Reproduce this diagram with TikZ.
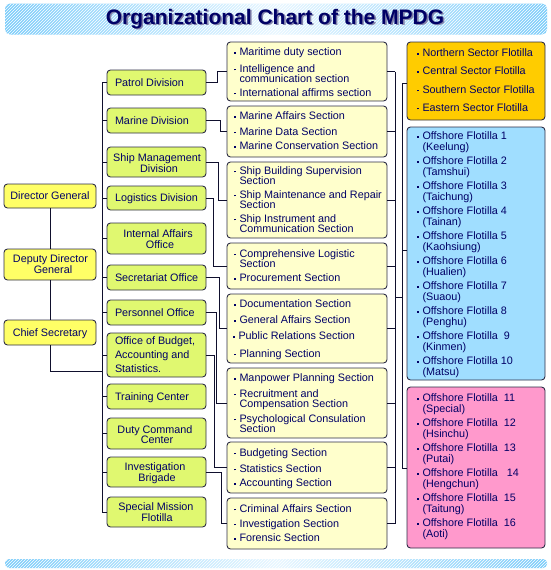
\documentclass[tikz,border=0pt]{standalone}
\usepackage{fontspec}
\setmainfont{Liberation Sans}
\usetikzlibrary{patterns}
\definecolor{navy}{RGB}{0,0,102}
\definecolor{linec}{RGB}{15,15,45}
\definecolor{boxborder}{RGB}{45,45,70}
\definecolor{topyellow}{RGB}{255,255,102}
\definecolor{divgreen}{RGB}{224,248,112}
\definecolor{secyellow}{RGB}{255,255,204}
\definecolor{orangef}{RGB}{255,204,0}
\definecolor{bluef}{RGB}{160,222,255}
\definecolor{pinkf}{RGB}{255,153,204}
\definecolor{barblue}{RGB}{125,205,250}
\definecolor{barlight}{RGB}{232,247,255}
\definecolor{titleshadow}{RGB}{130,130,170}
\newcommand{\bul}{\raisebox{0.3ex}{\rule{1.7pt}{1.7pt}}}
\newcommand{\mkbox}[6]{%
  \pgfmathsetmacro\bxw{#4-#2}\pgfmathsetmacro\bxh{#5-#3}%
  \node[box, fill=#6, anchor=north west, minimum width=\bxw pt, minimum height=\bxh pt] (#1) at (#2,#3) {};}
\newcommand{\itm}[4]{\node[lbl, anchor=base west] (#1) at (#2,#3+3.8) {\makebox[5.5pt][l]{\bul}#4};}
\newcommand{\cnt}[4]{\node[lbl, anchor=base west] (#1) at (#2+5.5,#3+3.8) {#4};}
\newcommand{\ctr}[4]{\node[lbl, anchor=base] (#1) at (#2,#3+3.8) {#4};}
\newcommand{\lft}[4]{\node[lbl, anchor=base west] (#1) at (#2,#3+3.8) {#4};}
\newcommand{\ttltext}{Organizational Chart of the MPDG}
\begin{document}
\begin{tikzpicture}[x=1pt,y=-1pt,
  box/.style={draw=boxborder, line width=0.9pt, rounded corners=3.5pt, inner sep=0pt, outer sep=0pt},
  lbl/.style={text=navy, font=\fontsize{10.8}{11}\selectfont, inner sep=0pt, outer sep=0pt},
  conn/.style={draw=linec, line width=0.9pt},
  barstyle/.style={left color=barblue, right color=barblue, middle color=barlight},
]
\useasboundingbox (0,0) rectangle (550,570);
% title bar
\path[rounded corners=5pt, barstyle] (5,3.5) rectangle (547,34.5);
\path[rounded corners=5pt, pattern=north east lines, pattern color=white] (5,3.5) rectangle (547,34.5);
\node[font=\fontsize{21}{24}\bfseries\selectfont, text=navy, anchor=base, inner sep=0pt] (title) at (275,24)
  {\makebox[0pt][l]{\hspace{1.6pt}\raisebox{-1.6pt}{\textcolor{titleshadow}{\ttltext}}}\ttltext};
% bottom bar
\path[rounded corners=4pt, barstyle] (5,559) rectangle (547,568);
\path[rounded corners=4pt, pattern=north east lines, pattern color=white] (5,559) rectangle (547,568);

\coordinate (busL) at (102,0);
\coordinate (busR) at (395,0);
\coordinate (csj) at (102,371);
\coordinate (lk1) at (395,297);
\coordinate (lk2) at (402,297);
\coordinate (rb1) at (402,83);
\coordinate (rb2) at (402,250);
\coordinate (rb3) at (402,468);

% ---- boxes ----
\mkbox{dg}{4}{184}{96}{208}{topyellow}
\mkbox{ddg}{4}{249}{96}{280}{topyellow}
\mkbox{cs}{4}{320}{96}{345}{topyellow}

\mkbox{patrol}{107}{70}{206}{95}{divgreen}
\mkbox{marine}{107}{108}{206}{133}{divgreen}
\mkbox{shipm}{107}{147}{206}{177}{divgreen}
\mkbox{logis}{107}{186}{206}{210}{divgreen}
\mkbox{intaff}{107}{223}{206}{254}{divgreen}
\mkbox{secret}{107}{265}{206}{290}{divgreen}
\mkbox{person}{107}{300}{206}{325}{divgreen}
\mkbox{budget}{107}{333}{206}{377}{divgreen}
\mkbox{train}{107}{384}{206}{409}{divgreen}
\mkbox{duty}{107}{418}{206}{449}{divgreen}
\mkbox{invest}{107}{457}{206}{487}{divgreen}
\mkbox{special}{107}{497}{206}{527}{divgreen}

\mkbox{s1}{227}{42}{387}{101}{secyellow}
\mkbox{s2}{227}{106}{387}{157}{secyellow}
\mkbox{s3}{227}{162}{387}{238}{secyellow}
\mkbox{s4}{227}{243}{387}{289}{secyellow}
\mkbox{s5}{227}{294}{387}{363}{secyellow}
\mkbox{s6}{227}{368}{387}{438}{secyellow}
\mkbox{s7}{227}{442}{387}{493}{secyellow}
\mkbox{s8}{227}{498}{387}{549}{secyellow}

\mkbox{orange}{407}{42}{545}{120}{orangef}
\mkbox{blue}{407}{127}{545}{380}{bluef}
\mkbox{pink}{407}{387}{545}{548}{pinkf}

% left chain
\draw[conn] (dg) -- (ddg);
\draw[conn] (ddg) -- (cs);
\draw[conn] (cs.south) |- (csj);
% main bus
\draw[conn] (patrol.west -| busL) -- (special.west -| busL);
\foreach \n in {patrol,marine,shipm,logis,intaff,secret,person,budget,train,duty,invest,special}
  \draw[conn] (\n.west) -- (\n.west -| busL);
% elbows division -> sections
\foreach \n/\s/\ex in {patrol/s1/217, marine/s2/220, shipm/s3/218, logis/s4/213, secret/s5/219, person/s6/216, budget/s7/214, invest/s8/221}{
  \coordinate (ec) at (\ex,0);
  \draw[conn] (\n.east) -- (\n.east -| ec) |- (\s.west);
}
% right bus
\draw[conn] (s1.east -| busR) -- (s8.east -| busR);
\foreach \s in {s1,s2,s3,s4,s5,s6,s7,s8}
  \draw[conn] (\s.east) -- (\s.east -| busR);
\draw[conn] (lk1) -- (lk2);
\draw[conn] (rb1) -- (rb3);
\draw[conn] (rb1) -- (rb1 -| orange.west);
\draw[conn] (rb2) -- (rb2 -| blue.west);
\draw[conn] (rb3) -- (rb3 -| pink.west);

% ---- texts: left ----
\ctr{tdg}{50}{196}{Director General}
\ctr{tddg1}{50.5}{259}{Deputy Director}
\ctr{tddg2}{53}{270}{General}
\ctr{tcs}{50}{332.5}{Chief Secretary}

% ---- texts: divisions ----
\lft{tpatrol}{115}{82.5}{Patrol Division}
\lft{tmarine}{115}{120.5}{Marine Division}
\ctr{tship1}{157}{157.3}{Ship Management}
\ctr{tship2}{159}{168.3}{Division}
\lft{tlogis}{115}{198}{Logistics Division}
\ctr{tint1}{158}{234}{Internal Affairs}
\ctr{tint2}{160}{245}{Office}
\lft{tsec}{115}{277.5}{Secretariat Office}
\lft{tper}{115}{312.5}{Personnel Office}
\lft{tbud1}{115}{341}{Office of Budget,}
\lft{tbud2}{115}{355}{Accounting and}
\lft{tbud3}{115}{369}{Statistics.}
\lft{ttrain}{115}{396.5}{Training Center}
\ctr{tduty1}{155}{429.3}{Duty Command}
\ctr{tduty2}{157}{440}{Center}
\ctr{tinv1}{155}{466.7}{Investigation}
\ctr{tinv2}{157}{477.3}{Brigade}
\ctr{tspe1}{156}{506.7}{Special Mission}
\ctr{tspe2}{157}{517.3}{Flotilla}

% ---- texts: sections ----
\itm{a1}{234}{51.7}{Maritime duty section}
\itm{a2}{234}{68.3}{Intelligence and}
\cnt{a3}{234}{79}{communication section}
\itm{a4}{234}{92.3}{International affirms section}

\itm{b1}{234}{116}{Marine Affairs Section}
\itm{b2}{234}{131.3}{Marine Data Section}
\itm{b3}{234}{146}{Marine Conservation Section}

\itm{c1}{234}{170.3}{Ship Building Supervision}
\cnt{c2}{234}{181}{Section}
\itm{c3}{234}{194.3}{Ship Maintenance and Repair}
\cnt{c4}{234}{205}{Section}
\itm{c5}{234}{218.3}{Ship Instrument and}
\cnt{c6}{234}{229}{Communication Section}

\itm{d1}{234}{253.3}{Comprehensive Logistic}
\cnt{d2}{234}{264}{Section}
\itm{d3}{234}{278}{Procurement Section}

\itm{e1}{234}{304}{Documentation Section}
\itm{e2}{234}{320}{General Affairs Section}
\itm{e3}{233}{336}{Public Relations Section}
\itm{e4}{234}{353.3}{Planning Section}

\itm{f1}{234}{378}{Manpower Planning Section}
\itm{f2}{234}{393.3}{Recruitment and}
\cnt{f3}{234}{404}{Compensation Section}
\itm{f4}{234}{418.3}{Psychological Consulation}
\cnt{f5}{234}{429}{Section}

\itm{g1}{234}{452.3}{Budgeting Section}
\itm{g2}{234}{468.3}{Statistics Section}
\itm{g3}{234}{483}{Accounting Section}

\itm{h1}{234}{508.3}{Criminal Affairs Section}
\itm{h2}{234}{523.3}{Investigation Section}
\itm{h3}{234}{537.7}{Forensic Section}

% ---- texts: flotillas ----
\itm{o1}{417}{52.7}{Northern Sector Flotilla}
\itm{o2}{417}{70.7}{Central Sector Flotilla}
\itm{o3}{417}{89.3}{Southern Sector Flotilla}
\itm{o4}{417}{107.3}{Eastern Sector Flotilla}

\foreach \k/\lab/\pl [count=\i from 0] in {1/1/Keelung, 2/2/Tamshui, 3/3/Taichung, 4/4/Tainan, 5/5/Kaohsiung, 6/6/Hualien, 7/7/Suaou, 8/8/Penghu, 9/{\hspace{3pt}9}/Kinmen, 10/10/Matsu}{
  \pgfmathsetmacro\yy{135.7+25*\i}
  \itm{fa\k}{417}{\yy}{Offshore Flotilla \lab}
  \cnt{fb\k}{417}{\yy+11.3}{(\pl)}
}
\foreach \k/\lab/\pl [count=\i from 0] in {11/{\hspace{3pt}11}/Special, 12/{\hspace{3pt}12}/Hsinchu, 13/{\hspace{3pt}13}/Putai, 14/{\hspace{6pt}14}/Hengchun, 15/{\hspace{3pt}15}/Taitung, 16/{\hspace{3pt}16}/Aoti}{
  \pgfmathsetmacro\yy{397.7+25*\i}
  \itm{fa\k}{417}{\yy}{Offshore Flotilla \lab}
  \cnt{fb\k}{417}{\yy+11.3}{(\pl)}
}
\end{tikzpicture}
\end{document}
